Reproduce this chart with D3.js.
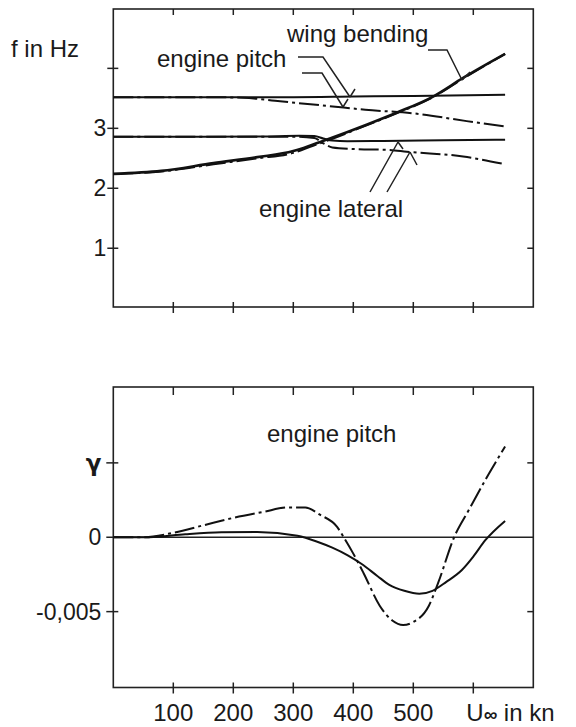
<!DOCTYPE html>
<html>
<head>
<meta charset="utf-8">
<script src="https://cdn.jsdelivr.net/npm/d3@7"></script>
<style>
  body { margin: 0; background: #fff; }
  text { font-family: "Liberation Sans", Arial, sans-serif; fill: #1a1a1a; }
</style>
</head>
<body>
<div id="chart"></div>
<script>
// ---- data (U in kn, f in Hz, gamma) ----
const xTicks = [100, 200, 300, 400, 500, 600];
const xTickLabels = ["100", "200", "300", "400", "500"];
const fTicks = [1, 2, 3, 4];
const fTickLabels = ["1", "2", "3", ""];
const gTicks = [0.005, 0, -0.005];
const gTickLabels = ["\u03b3", "0", "-0,005"];

// upper panel: frequencies
const wingBending = [[0,2.24],[80,2.29],[167,2.42],[240,2.52],[300,2.62],[333,2.73],[361,2.83],[422,3.06],[472,3.26],[533,3.53],[583,3.84],[653,4.24]];
const wingBendingAlt = [[0,2.24],[80,2.28],[167,2.40],[240,2.50],[300,2.59],[333,2.71],[361,2.81],[422,3.05],[472,3.25],[533,3.52],[583,3.83],[653,4.24]];
const pitchSolid = [[0,3.52],[150,3.52],[300,3.52],[400,3.53],[500,3.54],[653,3.56]];
const pitchDash = [[0,3.52],[150,3.52],[216,3.51],[278,3.45],[361,3.37],[420,3.31],[500,3.25],[589,3.12],[653,3.03]];
const lateralSolid = [[0,2.86],[150,2.86],[250,2.865],[310,2.875],[335,2.87],[350,2.83],[365,2.795],[390,2.785],[450,2.79],[550,2.80],[653,2.81]];
const lateralDash = [[0,2.86],[150,2.86],[300,2.86],[335,2.84],[350,2.75],[365,2.68],[400,2.655],[461,2.64],[489,2.61],[583,2.53],[653,2.40]];

// lower panel: damping, engine pitch
const gammaSolid = [[0,0],[60,0],[120,0.0002],[180,0.00033],[240,0.00035],[307,0.0001],[340,-0.0003],[365,-0.0007],[390,-0.0012],[414,-0.0018],[440,-0.0026],[460,-0.0032],[485,-0.0036],[510,-0.0038],[532,-0.0036],[555,-0.0030],[581,-0.0022],[600,-0.0013],[620,-0.0002],[653,0.0011]];
const gammaDash = [[0,0],[50,0],[100,0.0003],[150,0.0008],[200,0.0013],[250,0.0017],[290,0.0020],[320,0.0020],[345,0.0015],[373,0.0007],[384,0],[400,-0.0011],[417,-0.0024],[444,-0.0046],[465,-0.0056],[483,-0.0059],[500,-0.0057],[526,-0.0046],[542,-0.0030],[568,0],[592,0.0018],[625,0.0042],[653,0.0061]];

// ---- layout ----
var width = 576, height = 727;
var left = 113.3, right = 533.3;
var topPanel = { top: 9, bottom: 307 };
var botPanel = { top: 387, bottom: 687.5 };
var dashDot = "20,4,3,4";

var svg = d3.select("#chart").append("svg")
  .attr("width", width)
  .attr("height", height);

const x = d3.scaleLinear().domain([0, 700]).range([left, right]);
const yF = d3.scaleLinear().domain([0.02, 4.99]).range([topPanel.bottom, topPanel.top]);
const yG = d3.scaleLinear().domain([-0.0101, 0.0101]).range([botPanel.bottom, botPanel.top]);

function frame(p) {
  svg.append("rect")
    .attr("x", left).attr("y", p.top)
    .attr("width", right - left).attr("height", p.bottom - p.top)
    .attr("fill", "none").attr("stroke", "#222").attr("stroke-width", 1.6);
}
frame(topPanel);
frame(botPanel);

function tickLines(data, f) {
  svg.append("g").selectAll("line")
    .data(data).enter().append("line")
    .each(function(d) {
      var c = f(d);
      d3.select(this).attr("x1", c[0]).attr("y1", c[1]).attr("x2", c[2]).attr("y2", c[3]);
    })
    .attr("stroke", "#222").attr("stroke-width", 1.5);
}

// upper panel ticks
tickLines(xTicks, d => [x(d), topPanel.top, x(d), topPanel.top + 6]);
tickLines(xTicks, d => [x(d), topPanel.bottom - 5, x(d), topPanel.bottom + 6]);
tickLines(fTicks, d => [left - 6, yF(d), left + 5, yF(d)]);
tickLines(fTicks, d => [right - 6, yF(d), right, yF(d)]);
// lower panel ticks
tickLines(xTicks, d => [x(d), botPanel.top, x(d), botPanel.top + 8]);
tickLines(xTicks, d => [x(d), botPanel.bottom - 5, x(d), botPanel.bottom + 6]);
tickLines(gTicks, d => [left - 7, yG(d), left + 5, yG(d)]);
tickLines(gTicks.filter(d => d !== 0), d => [right - 6, yG(d), right, yG(d)]);

// tick labels
svg.append("g").selectAll("text")
  .data(fTicks).enter().append("text")
  .attr("x", left - 7).attr("y", d => yF(d) + 8)
  .attr("text-anchor", "end").attr("font-size", 23)
  .text((d, i) => fTickLabels[i]);

svg.append("g").selectAll("text")
  .data(gTicks).enter().append("text")
  .attr("x", left - 12).attr("y", d => yG(d) + 8)
  .attr("text-anchor", "end").attr("font-size", 23)
  .style("font-family", d => d === 0.005 ? "'DejaVu Sans', sans-serif" : null)
  .style("font-weight", d => d === 0.005 ? "bold" : null)
  .text((d, i) => gTickLabels[i]);

svg.append("g").selectAll("text")
  .data(xTickLabels).enter().append("text")
  .attr("x", (d, i) => x(xTicks[i])).attr("y", 721)
  .attr("text-anchor", "middle").attr("font-size", 24)
  .text(d => d);

var uLabel = svg.append("text").attr("x", x(600) - 7).attr("y", 721).attr("font-size", 24);
uLabel.append("tspan").text("U");
uLabel.append("tspan").attr("font-size", 19).attr("font-weight", "bold").text("\u221e");
uLabel.append("tspan").text(" in kn");

// ---- curves ----
const lineF = d3.line().x(d => x(d[0])).y(d => yF(d[1])).curve(d3.curveMonotoneX);
const lineG = d3.line().x(d => x(d[0])).y(d => yG(d[1])).curve(d3.curveMonotoneX);

function curve(data, gen, dashed, w) {
  svg.append("path")
    .datum(data)
    .attr("d", gen)
    .attr("fill", "none")
    .attr("stroke", "#111")
    .attr("stroke-width", w)
    .attr("stroke-dasharray", dashed ? dashDot : null);
}

curve(pitchSolid, lineF, false, 2);
curve(pitchDash, lineF, true, 2);
curve(lateralSolid, lineF, false, 2);
curve(lateralDash, lineF, true, 2);
curve(wingBendingAlt, lineF, true, 2);
curve(wingBending, lineF, false, 2.6);

// zero line, lower panel
svg.append("line")
  .attr("x1", x(0)).attr("x2", x(700))
  .attr("y1", yG(0)).attr("y2", yG(0))
  .attr("stroke", "#222").attr("stroke-width", 1.6);
curve(gammaSolid, lineG, false, 2);
curve(gammaDash, lineG, true, 2);

// ---- annotations ----
function label(tx, ty, s) {
  svg.append("text").attr("x", tx).attr("y", ty).attr("font-size", 24).text(s);
}
label(11, 57, "f in Hz");
label(287, 42, "wing bending");
label(157, 67, "engine pitch");
label(259, 217, "engine lateral");
label(267, 442, "engine pitch");

function leader(pts, barb) {
  svg.append("path")
    .attr("d", d3.line()(pts) + "M" + pts[pts.length - 1] + "L" + barb)
    .attr("fill", "none").attr("stroke", "#222").attr("stroke-width", 1.5);
}
leader([[298, 57], [323, 57], [350, 97]], [355, 89]);
leader([[302, 73], [322, 73], [343, 107]], [348, 99]);
leader([[428, 50], [447, 50], [462, 80]], [470, 72]);
leader([[370, 192], [398, 142]], [403, 149]);
leader([[387, 192], [410, 152]], [417, 165]);
</script>
</body>
</html>
